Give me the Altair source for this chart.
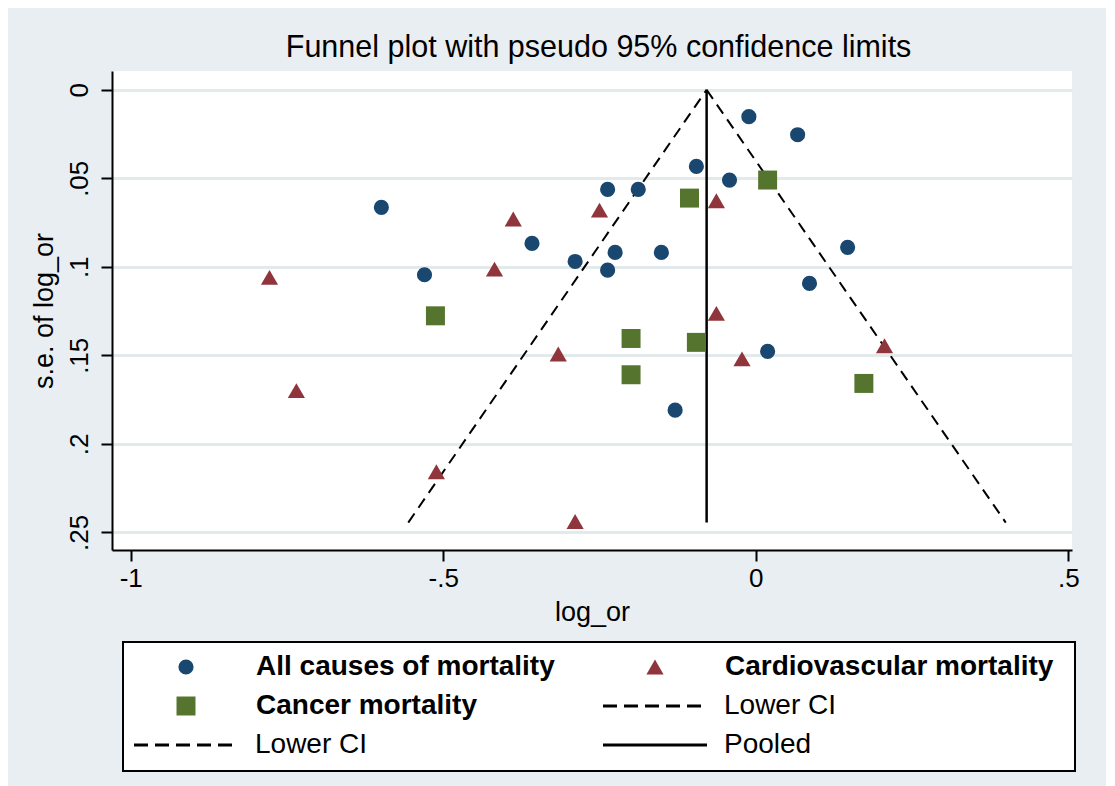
import altair as alt
import pandas as pd

# ---------------- data ----------------
series_names = ["All causes of mortality", "Cardiovascular mortality", "Cancer mortality"]
series_colors = ["#1a476f", "#90353b", "#55752f"]
series_shapes = ["circle", "triangle-up", "square"]
series_sizes = [230, 360, 225]

all_x = [-0.011, 0.067, -0.095, -0.042, -0.237, -0.188, -0.599, -0.358, 0.147,
         -0.225, -0.151, -0.289, -0.237, -0.530, 0.086, 0.019, -0.129]
all_se = [0.0152, 0.0254, 0.0433, 0.0510, 0.0563, 0.0563, 0.0664, 0.0868, 0.0890,
          0.0919, 0.0919, 0.0970, 0.1019, 0.1045, 0.1094, 0.1478, 0.1810]

cv_x = [-0.250, -0.063, -0.388, -0.418, -0.778, -0.063, -0.316, -0.022, 0.206,
        -0.735, -0.511, -0.289]
cv_se = [0.0680, 0.0627, 0.0730, 0.1013, 0.1060, 0.1263, 0.1493, 0.1520, 0.1446,
         0.1700, 0.2158, 0.2439]

ca_x = [0.019, -0.106, -0.5125, -0.1995, -0.095, -0.1995, 0.173]
ca_se = [0.0510, 0.0612, 0.1277, 0.1405, 0.1427, 0.1610, 0.1659]

funnel_se = [0.0, 0.2445]
lower_ci_x = [-0.0786, -0.556]
upper_ci_x = [-0.0786, 0.400]
pooled_x = -0.0786

x_ticks = [-1, -0.5, 0, 0.5]
x_tick_labels = ["-1", "-.5", "0", ".5"]
y_ticks = [0, 0.05, 0.1, 0.15, 0.2, 0.25]
y_tick_labels = ["0", ".05", ".1", ".15", ".2", ".25"]

legend_labels = ["All causes of mortality", "Cardiovascular mortality", "Cancer mortality",
                 "Lower CI", "Lower CI", "Pooled"]
legend_kind = ["circle", "triangle-up", "square", "dash", "dash", "solid"]
legend_col = [0, 1, 0, 1, 0, 1]
legend_row = [0, 0, 1, 1, 2, 2]

# ---------------- tables ----------------
points = pd.DataFrame({
    "log_or": all_x + cv_x + ca_x,
    "se": all_se + cv_se + ca_se,
    "series": [series_names[0]] * len(all_x) + [series_names[1]] * len(cv_x) + [series_names[2]] * len(ca_x),
})
ci = pd.DataFrame({
    "log_or": lower_ci_x + upper_ci_x,
    "se": funnel_se + funnel_se,
    "line": ["lower"] * 2 + ["upper"] * 2,
})
pooled = pd.DataFrame({"log_or": [pooled_x], "se0": [funnel_se[0]], "se1": [funnel_se[1]]})
legend_df = pd.DataFrame({"label": legend_labels, "kind": legend_kind,
                          "col": legend_col, "row": legend_row})


def label_expr(values, labels):
    parts = [f"abs(datum.value - ({v})) < 1e-9 ? '{l}'" for v, l in zip(values, labels)]
    return " : ".join(parts) + " : ''"


FONT = "Liberation Sans, Arial, Helvetica, sans-serif"

xscale = alt.Scale(domain=[-1.03, 0.506], nice=False, zero=False)
yscale = alt.Scale(domain=[-0.0106, 0.26], nice=False, zero=False, reverse=True)

x_axis = alt.Axis(values=x_ticks, labelExpr=label_expr(x_ticks, x_tick_labels), title="log_or",
                  grid=False, domainColor="black", domainWidth=2, tickColor="black", tickWidth=2,
                  tickSize=11, labelFontSize=26, labelFont=FONT, labelColor="black", labelPadding=4,
                  titleFontSize=27, titleFont=FONT, titleFontWeight="normal", titleColor="black",
                  titlePadding=8, labelFlush=False)
y_axis = alt.Axis(values=y_ticks, labelExpr=label_expr(y_ticks, y_tick_labels), title="s.e. of log_or",
                  grid=True, gridColor="#e2eaec", gridWidth=3, domainColor="black", domainWidth=2,
                  tickColor="black", tickWidth=2, tickSize=11, labelFontSize=26, labelFont=FONT,
                  labelColor="black", labelAngle=270, labelAlign="center", labelBaseline="bottom",
                  labelPadding=9, titleFontSize=27, titleFont=FONT, titleFontWeight="normal",
                  titleColor="black", titlePadding=8, labelFlush=False)

pts = alt.Chart(points).mark_point(filled=True, opacity=1, strokeWidth=0).encode(
    x=alt.X("log_or:Q", scale=xscale, axis=x_axis),
    y=alt.Y("se:Q", scale=yscale, axis=y_axis),
    color=alt.Color("series:N", scale=alt.Scale(domain=series_names, range=series_colors), legend=None),
    shape=alt.Shape("series:N", scale=alt.Scale(domain=series_names, range=series_shapes), legend=None),
    size=alt.Size("series:N", scale=alt.Scale(domain=series_names, range=series_sizes), legend=None),
)

ci_lines = alt.Chart(ci).mark_line(color="black", strokeWidth=2, strokeDash=[11, 7]).encode(
    x=alt.X("log_or:Q", scale=xscale),
    y=alt.Y("se:Q", scale=yscale),
    detail="line:N",
)

pooled_line = alt.Chart(pooled).mark_rule(color="black", strokeWidth=2.5).encode(
    x=alt.X("log_or:Q", scale=xscale),
    y=alt.Y("se0:Q", scale=yscale),
    y2="se1:Q",
)

main = alt.layer(ci_lines, pooled_line, pts).properties(
    width=960, height=479,
    view=alt.ViewBackground(fill="white", stroke=None),
)

# ---------------- legend panel ----------------
lx = alt.Scale(domain=[0, 1], range=[74, 543])
ly = alt.Scale(domain=[0, 2], range=[25, 103])
base = alt.Chart(legend_df)

frame = alt.Chart(legend_df).transform_filter(alt.datum.row == 0).transform_filter(
    alt.datum.col == 0
).mark_rect(fill="white", stroke="black", strokeWidth=2).encode(
    x=alt.value(11), x2=alt.value(963), y=alt.value(0), y2=alt.value(129)
)

leg_sym = base.transform_filter(
    alt.FieldOneOfPredicate(field="kind", oneOf=series_shapes)
).mark_point(filled=True, opacity=1, strokeWidth=0).encode(
    x=alt.X("col:Q", scale=lx, axis=None),
    y=alt.Y("row:Q", scale=ly, axis=None),
    color=alt.Color("kind:N", scale=alt.Scale(domain=series_shapes, range=series_colors), legend=None),
    shape=alt.Shape("kind:N", scale=alt.Scale(domain=series_shapes, range=series_shapes), legend=None),
    size=alt.Size("kind:N", scale=alt.Scale(domain=series_shapes, range=series_sizes), legend=None),
)
leg_dash = base.transform_filter(alt.datum.kind == "dash").mark_rule(
    color="black", strokeWidth=3, strokeDash=[14, 7], xOffset=-52, x2Offset=52
).encode(
    x=alt.X("col:Q", scale=lx, axis=None), x2="col:Q",
    y=alt.Y("row:Q", scale=ly, axis=None),
)
leg_solid = base.transform_filter(alt.datum.kind == "solid").mark_rule(
    color="black", strokeWidth=3, xOffset=-52, x2Offset=52
).encode(
    x=alt.X("col:Q", scale=lx, axis=None), x2="col:Q",
    y=alt.Y("row:Q", scale=ly, axis=None),
)
leg_bold = base.transform_filter(
    alt.FieldOneOfPredicate(field="kind", oneOf=series_shapes)
).mark_text(align="left", baseline="middle", dx=70, fontSize=28, fontWeight="bold",
            font=FONT, color="black").encode(
    x=alt.X("col:Q", scale=lx, axis=None),
    y=alt.Y("row:Q", scale=ly, axis=None),
    text="label:N",
)
leg_norm = base.transform_filter(
    alt.FieldOneOfPredicate(field="kind", oneOf=["dash", "solid"])
).mark_text(align="left", baseline="middle", dx=69, fontSize=28, fontWeight="normal",
            font=FONT, color="black").encode(
    x=alt.X("col:Q", scale=lx, axis=None),
    y=alt.Y("row:Q", scale=ly, axis=None),
    text="label:N",
)

legend_panel = alt.layer(frame, leg_dash, leg_solid, leg_sym, leg_bold, leg_norm).properties(
    width=963, height=129,
    view=alt.ViewBackground(fill=None, stroke=None),
)

chart = alt.vconcat(main, legend_panel, spacing=16).resolve_scale(
    x="independent", y="independent", color="independent", shape="independent", size="independent"
).properties(
    title=alt.TitleParams("Funnel plot with pseudo 95% confidence limits", fontSize=30.5, font=FONT,
                          fontWeight="normal", color="black", anchor="middle", offset=8, dx=44),
    background="#e8eef1",
    padding={"left": 22, "top": 24, "right": 26, "bottom": 14},
).configure_view(stroke=None).configure_concat(spacing=16)

chart.save("out.html", embed_options={"renderer": "svg", "actions": False})
